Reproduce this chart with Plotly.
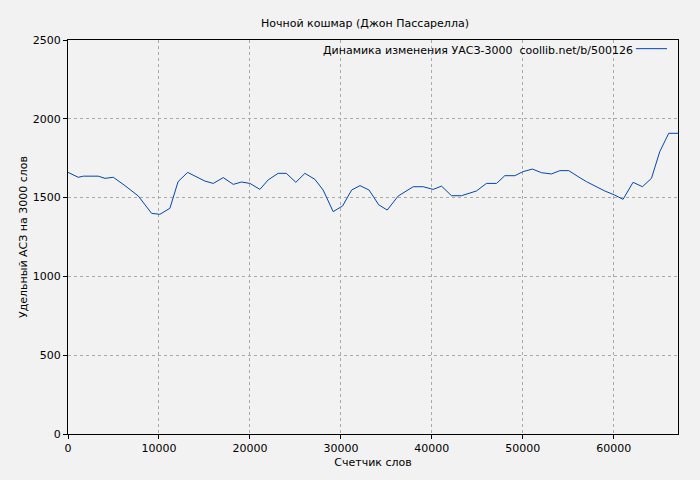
import plotly.graph_objects as go

words = [0,1130,1700,3330,4070,4980,6260,7730,9190,10100,11200,12100,13150,15050,15970,17070,18170,19080,20000,21100,22000,23100,24000,25050,26040,27140,28050,29150,30190,31180,32100,33100,34150,35090,36300,37950,39050,40150,41060,42160,43260,44900,46000,47110,48020,49120,50030,51060,52050,53150,54070,55050,56080,57000,59010,60110,61020,62120,63150,64140,65050,66040,67060]
vals = [1660,1629,1636,1636,1622,1629,1576,1510,1400,1394,1432,1601,1660,1605,1590,1627,1584,1599,1590,1552,1612,1654,1654,1597,1654,1616,1548,1411,1447,1548,1576,1548,1455,1421,1510,1569,1569,1552,1573,1512,1512,1542,1590,1590,1639,1639,1665,1681,1658,1650,1671,1671,1633,1601,1542,1516,1489,1597,1569,1622,1791,1908,1908]
legend_text = "Динамика изменения УАСЗ-3000  coollib.net/b/500126"

fig = go.Figure(go.Scatter(x=words, y=vals, mode="lines",
    line=dict(color="#0047b3", width=1), showlegend=False))
ax = dict(showline=True, linecolor="black", linewidth=1, mirror=True,
          gridcolor="#aaaaaa", griddash="dot", gridwidth=1, zeroline=False,
          ticks="outside", ticklen=4, tickcolor="black", automargin=False,
          tickformat="d", tickfont=dict(size=11))
fig.add_annotation(x=0.93, y=0.995, xref="paper", yref="paper", text=legend_text,
                   showarrow=False, xanchor="right", yanchor="top", font=dict(size=11))
fig.add_shape(type="line", xref="paper", yref="paper", x0=0.928+0.003, x1=0.982, y0=0.978, y1=0.978,
              line=dict(color="#0047b3", width=1))
fig.update_layout(
    width=700, height=480, paper_bgcolor="#f2f2f2", plot_bgcolor="#f2f2f2",
    margin=dict(l=60, r=30, t=32, b=54, autoexpand=False),
    font=dict(family="DejaVu Sans", size=11, color="black"),
    title=dict(text="Ночной кошмар (Джон Пассарелла)", x=0.51, xanchor="center", y=0.977, font=dict(size=11)),
    xaxis=dict(ax, range=[0, 67060], tickvals=[0,10000,20000,30000,40000,50000,60000], title=dict(text="Счетчик слов", standoff=4, font=dict(size=11))),
    yaxis=dict(ax, range=[0, 2500], tickvals=[0,500,1000,1500,2000,2500], title=dict(text="Удельный АСЗ на 3000 слов", standoff=2, font=dict(size=11))),
)
fig.write_html("out.html", post_script="document.body.style.background='#f2f2f2';")
